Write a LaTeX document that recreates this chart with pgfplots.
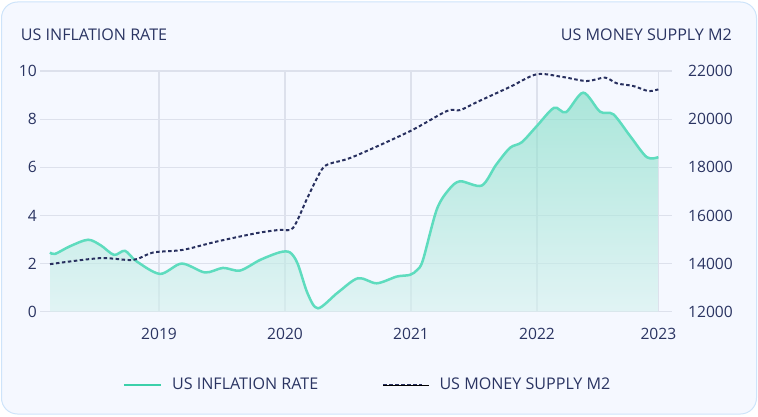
\documentclass[border=0pt]{standalone}
\usepackage{fontspec}
\setmainfont{Open Sans}
\usepackage{pgfplots}
\pgfplotsset{compat=1.18}
\usepackage{pgfplotstable}

\definecolor{cardbg}{RGB}{245,248,255}
\definecolor{cardborder}{RGB}{206,228,250}
\definecolor{txt}{RGB}{42,52,98}
\definecolor{gridc}{RGB}{221,225,236}
\definecolor{inflc}{RGB}{94,220,190}
\definecolor{inflleg}{RGB}{60,208,170}
\definecolor{filltop}{RGB}{122,219,194}
\definecolor{fillbot}{RGB}{212,241,238}
\definecolor{mtwo}{RGB}{40,48,95}

\pgfplotstableread{
x y
2018.135 2.46
2018.175 2.40
2018.294 2.72
2018.437 2.99
2018.540 2.75
2018.643 2.36
2018.730 2.53
2018.820 2.10
2019.008 1.57
2019.180 2.00
2019.365 1.63
2019.508 1.82
2019.643 1.71
2019.802 2.15
2019.960 2.47
2020.040 2.46
2020.100 2.00
2020.180 0.75
2020.262 0.14
2020.420 0.80
2020.579 1.39
2020.728 1.18
2020.887 1.46
2020.992 1.53
2021.050 1.74
2021.095 2.15
2021.204 4.24
2021.300 5.07
2021.389 5.42
2021.561 5.24
2021.675 6.10
2021.786 6.81
2021.879 7.04
2021.998 7.71
2022.135 8.47
2022.230 8.29
2022.367 9.10
2022.500 8.31
2022.606 8.20
2022.740 7.29
2022.871 6.42
2022.963 6.42
}\infl

\pgfplotstableread{
x y
2018.135 13975
2018.532 14225
2018.794 14150
2018.952 14458
2019.190 14570
2019.460 14917
2019.778 15267
2019.960 15404
2020.063 15475
2020.175 16700
2020.254 17550
2020.302 17975
2020.357 18154
2020.540 18433
2020.992 19500
2021.283 20333
2021.389 20375
2021.520 20700
2021.786 21340
2021.998 21863
2022.206 21750
2022.394 21583
2022.540 21725
2022.633 21488
2022.765 21375
2022.884 21167
2022.963 21237
}\mtwodata

\begin{document}
\begin{tikzpicture}[x=1pt,y=1pt]
\path (0,0) rectangle (758,416);
\draw[draw=cardborder, fill=cardbg, line width=1pt, rounded corners=16pt] (1.5,2) rectangle (756.5,414);
\node[anchor=base west, inner sep=0pt, font=\fontsize{16.1}{19}\selectfont, text=txt] at (20.7,375) {US INFLATION RATE};
\node[anchor=base east, inner sep=0pt, font=\fontsize{16.1}{19}\selectfont, text=txt] at (732,375) {US MONEY SUPPLY M2};

\begin{axis}[
  at={(40pt,104.3pt)}, anchor=south west,
  scale only axis, width=632pt, height=240.7pt,
  xmin=2018.0556, xmax=2023.0714, ymin=0, ymax=10,
  ytick={0,2,4,6,8,10},
  xtick={2019,2020,2021,2022,2022.963},
  xticklabels={2019,2020,2021,2022,2023},
  xmajorgrids, ymajorgrids,
  major grid style={draw=gridc, line width=1.2pt},
  axis line style={draw=none},
  major tick length=0pt,
  tick label style={font=\fontsize{15.6}{18}\selectfont, text=txt},
  /pgf/number format/assume math mode=true,
  yticklabel style={inner sep=0pt, xshift=-3pt},
  xticklabel style={inner sep=0pt, anchor=north, yshift=-16pt},
  legend columns=2,
  legend style={at={(0.5166,-0.304)}, anchor=center, draw=none, fill=none,
    font=\fontsize{16.1}{19}\selectfont, text=txt,
    nodes={inner sep=0pt},
    /tikz/every odd column/.append style={column sep=10pt},
    /tikz/every even column/.append style={column sep=64pt}},
  legend image code/.code={\draw[#1] (0pt,0pt) -- (37pt,0pt);},
]
\addplot[draw=none, fill opacity=0.6, top color=filltop, bottom color=fillbot, smooth, forget plot] table[x=x,y=y] {\infl} \closedcycle;
\addplot[color=inflc, line width=2.5pt, smooth, legend image post style={color=inflleg}] table[x=x,y=y] {\infl};
\addlegendentry{US INFLATION RATE}
\addlegendimage{legend image code/.code={\draw[color=mtwo, line width=2pt, dash pattern=on 3.5pt off 2.5pt] (0pt,0pt) -- (39pt,0pt); \path (0pt,0pt) -- (46pt,0pt);}}
\addlegendentry{US MONEY SUPPLY M2}
\end{axis}

\begin{axis}[
  at={(40pt,104.3pt)}, anchor=south west,
  scale only axis, width=632pt, height=240.7pt,
  xmin=2018.0556, xmax=2023.0714, ymin=12000, ymax=22000,
  ytick={12000,14000,16000,18000,20000,22000},
  xtick=\empty,
  axis line style={draw=none},
  major tick length=0pt,
  axis y line*=right,
  scaled y ticks=false,
  tick label style={font=\fontsize{15.6}{18}\selectfont, text=txt},
  /pgf/number format/assume math mode=true,
  /pgf/number format/1000 sep={},
  yticklabel style={inner sep=0pt, anchor=west, xshift=16pt},
]
\addplot[color=mtwo, line width=2pt, dash pattern=on 3.5pt off 2.5pt, smooth] table[x=x,y=y] {\mtwodata};
\end{axis}
\end{tikzpicture}
\end{document}
